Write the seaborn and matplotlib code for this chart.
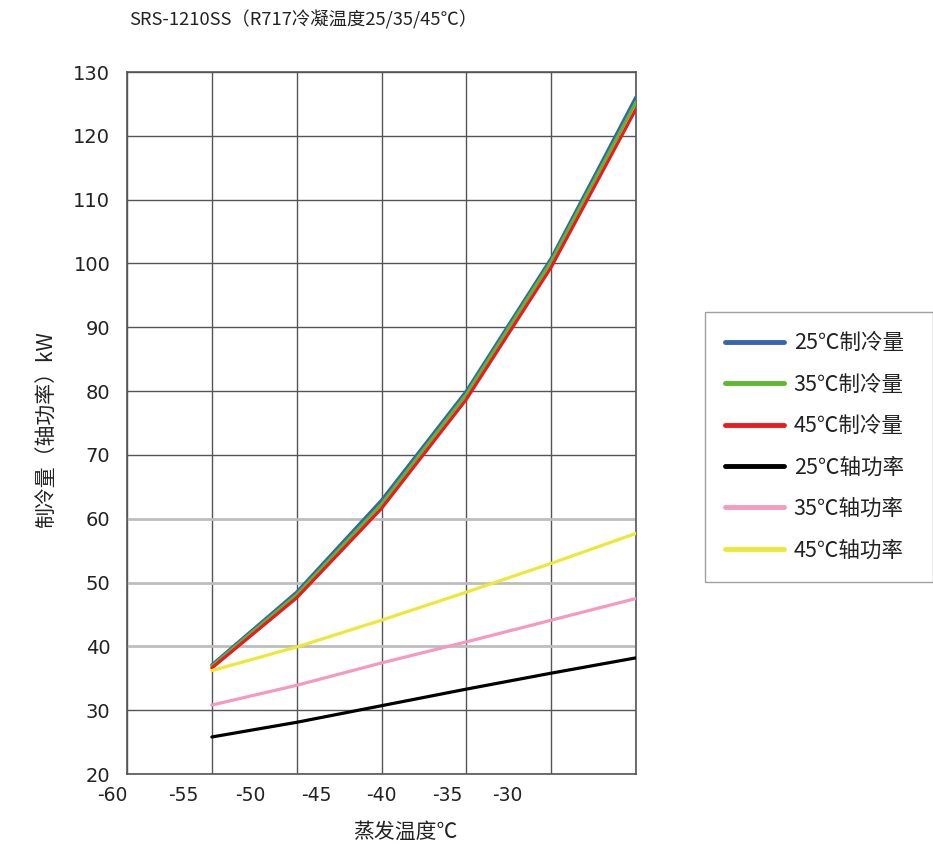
import matplotlib
matplotlib.use("Agg")
import matplotlib.pyplot as plt
import seaborn as sns
import pandas as pd

sns.set_style("white")
plt.rcParams['font.family'] = ['Noto Sans CJK SC', 'DejaVu Sans']

# ---------------- data ----------------
evap_temp = [-55, -50, -45, -40, -35, -30]
cap_25 = [37.1, 48.5, 62.9, 80.0, 100.8, 126.1]
cap_35 = [36.9, 48.1, 62.3, 79.5, 100.3, 125.3]
cap_45 = [36.6, 47.6, 61.6, 78.7, 99.4, 124.2]
pow_25 = [25.8, 28.1, 30.7, 33.3, 35.8, 38.2]
pow_35 = [30.8, 33.9, 37.4, 40.7, 44.1, 47.5]
pow_45 = [36.2, 39.9, 44.1, 48.5, 53.0, 57.7]
series_names = ["25℃制冷量", "35℃制冷量", "45℃制冷量", "25℃轴功率", "35℃轴功率", "45℃轴功率"]
series_vals = [cap_25, cap_35, cap_45, pow_25, pow_35, pow_45]
colors = ["#3466ae", "#5cb82c", "#ea1a1f", "#000000", "#f39ac1", "#ece837"]
xtick_labels = ["-60", "-55", "-50", "-45", "-40", "-35", "-30"]
ytick_vals = [20, 30, 40, 50, 60, 70, 80, 90, 100, 110, 120, 130]
title = "SRS-1210SS（R717冷凝温度25/35/45℃）"

rows = []
for name, vals in zip(series_names, series_vals):
    for t, v in zip(evap_temp, vals):
        rows.append({"t": t, "v": v, "s": name})
df = pd.DataFrame(rows)

# ---------------- figure ----------------
fig = plt.figure(figsize=(9.33, 8.49), dpi=100)
ax = fig.add_axes([127/933, 1-774/849, 509/933, 702/849])

# gridlines
grid_x = [-60, -55, -50, -45, -40, -35, -30]
for gx in grid_x:
    ax.axvline(gx, color="#555555", lw=1.0, zorder=1)
for gy in ytick_vals:
    if gy in (40, 50, 60):
        ax.axhline(gy, color="#bdbdbd", lw=2.0, zorder=1)
    else:
        ax.axhline(gy, color="#555555", lw=1.0, zorder=1)

sns.lineplot(data=df, x="t", y="v", hue="s", hue_order=series_names,
             palette=colors, linewidth=2.3, ax=ax, zorder=3, legend=True)

ax.set_xticks([])
ax.set_xlim(-60, -30)
ax.set_ylim(20, 130)

# x tick labels (placed as they appear in the reference, offset from the grid)
xtick_pos = [-60.88, -56.70, -52.75, -48.86, -45.03, -41.14, -37.60]
xtrans = ax.get_xaxis_transform()
for p, lab in zip(xtick_pos, xtick_labels):
    ax.text(p, -0.030, lab, transform=xtrans, ha="center", va="center",
            fontsize=13.5, family="DejaVu Sans", color="#222222", clip_on=False)

ax.set_yticks(ytick_vals)
ax.set_yticklabels([str(v) for v in ytick_vals])
ax.tick_params(axis="y", direction="in", length=7, width=1.5, color="#555555", pad=12,
               labelsize=14, labelcolor="#222222", labelfontfamily="DejaVu Sans")

for sp in ax.spines.values():
    sp.set_color("#555555")
    sp.set_linewidth(1.2)

ax.set_xlabel("蒸发温度℃", fontsize=15, color="#222222")
ax.xaxis.set_label_coords((405-127)/509, -0.066)
ax.set_ylabel("制冷量（轴功率）kW", fontsize=15, color="#222222")
ax.yaxis.set_label_coords(-0.135, 0.49)

fig.text(303/933, 1-20/849, title, ha="center", va="center", fontsize=13.2, color="#222222")

handles, labels = ax.get_legend_handles_labels()
for h in handles:
    h.set_linewidth(3.5)
leg = ax.legend(handles, labels, loc="upper left", mode="expand",
                bbox_to_anchor=(705/933, 1-583/849, 228/933, 271/849),
                bbox_transform=fig.transFigure,
                borderaxespad=0, frameon=True, fancybox=False, fontsize=15.5,
                handlelength=2.7, handletextpad=0.47, labelspacing=0.9, borderpad=0.95)
leg.get_frame().set_edgecolor("#888888")
leg.get_frame().set_linewidth(1.0)
for t in leg.get_texts():
    t.set_color("#222222")

fig.savefig("out.png", dpi=100)
